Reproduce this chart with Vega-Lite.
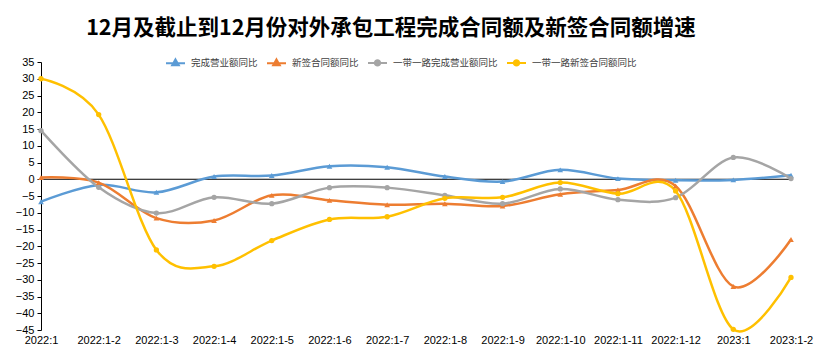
{
  "$schema": "https://vega.github.io/schema/vega-lite/v6.json",
  "width": 750,
  "height": 268,
  "autosize": {"type": "none"},
  "padding": {"left": 41, "top": 62, "right": 34, "bottom": 33},
  "background": "white",
  "config": {"view": {"stroke": null}},
  "title": {
    "text": "12月及截止到12月份对外承包工程完成合同额及新签合同额增速",
    "font": "Noto Sans CJK SC",
    "fontSize": 21.5,
    "fontWeight": "bold",
    "color": "#000000",
    "anchor": "middle",
    "dx": -25,
    "offset": 13
  },
  "datasets": {
    "series": [
      {"date": "2022:1", "series": "完成营业额同比", "value": -6.7},
      {"date": "2022:1-2", "series": "完成营业额同比", "value": -1.7},
      {"date": "2022:1-3", "series": "完成营业额同比", "value": -3.9},
      {"date": "2022:1-4", "series": "完成营业额同比", "value": 0.8},
      {"date": "2022:1-5", "series": "完成营业额同比", "value": 1.1},
      {"date": "2022:1-6", "series": "完成营业额同比", "value": 3.9},
      {"date": "2022:1-7", "series": "完成营业额同比", "value": 3.6},
      {"date": "2022:1-8", "series": "完成营业额同比", "value": 0.8},
      {"date": "2022:1-9", "series": "完成营业额同比", "value": -0.7},
      {"date": "2022:1-10", "series": "完成营业额同比", "value": 2.8},
      {"date": "2022:1-11", "series": "完成营业额同比", "value": 0.2},
      {"date": "2022:1-12", "series": "完成营业额同比", "value": -0.3},
      {"date": "2023:1", "series": "完成营业额同比", "value": -0.2},
      {"date": "2023:1-2", "series": "完成营业额同比", "value": 1.2},
      {"date": "2022:1", "series": "新签合同额同比", "value": 0.5},
      {"date": "2022:1-2", "series": "新签合同额同比", "value": -1.0},
      {"date": "2022:1-3", "series": "新签合同额同比", "value": -11.6},
      {"date": "2022:1-4", "series": "新签合同额同比", "value": -12.3},
      {"date": "2022:1-5", "series": "新签合同额同比", "value": -4.8},
      {"date": "2022:1-6", "series": "新签合同额同比", "value": -6.3},
      {"date": "2022:1-7", "series": "新签合同额同比", "value": -7.6},
      {"date": "2022:1-8", "series": "新签合同额同比", "value": -7.3},
      {"date": "2022:1-9", "series": "新签合同额同比", "value": -8.0},
      {"date": "2022:1-10", "series": "新签合同额同比", "value": -4.5},
      {"date": "2022:1-11", "series": "新签合同额同比", "value": -3.2},
      {"date": "2022:1-12", "series": "新签合同额同比", "value": -2.0},
      {"date": "2023:1", "series": "新签合同额同比", "value": -32.0},
      {"date": "2023:1-2", "series": "新签合同额同比", "value": -18.0},
      {"date": "2022:1", "series": "一带一路完成营业额同比", "value": 14.5},
      {"date": "2022:1-2", "series": "一带一路完成营业额同比", "value": -2.4},
      {"date": "2022:1-3", "series": "一带一路完成营业额同比", "value": -10.1},
      {"date": "2022:1-4", "series": "一带一路完成营业额同比", "value": -5.4},
      {"date": "2022:1-5", "series": "一带一路完成营业额同比", "value": -7.3},
      {"date": "2022:1-6", "series": "一带一路完成营业额同比", "value": -2.5},
      {"date": "2022:1-7", "series": "一带一路完成营业额同比", "value": -2.5},
      {"date": "2022:1-8", "series": "一带一路完成营业额同比", "value": -4.8},
      {"date": "2022:1-9", "series": "一带一路完成营业额同比", "value": -7.3},
      {"date": "2022:1-10", "series": "一带一路完成营业额同比", "value": -2.9},
      {"date": "2022:1-11", "series": "一带一路完成营业额同比", "value": -6.1},
      {"date": "2022:1-12", "series": "一带一路完成营业额同比", "value": -5.5},
      {"date": "2023:1", "series": "一带一路完成营业额同比", "value": 6.5},
      {"date": "2023:1-2", "series": "一带一路完成营业额同比", "value": 0.2},
      {"date": "2022:1", "series": "一带一路新签合同额同比", "value": 30.0},
      {"date": "2022:1-2", "series": "一带一路新签合同额同比", "value": 19.3},
      {"date": "2022:1-3", "series": "一带一路新签合同额同比", "value": -21.1},
      {"date": "2022:1-4", "series": "一带一路新签合同额同比", "value": -26.0},
      {"date": "2022:1-5", "series": "一带一路新签合同额同比", "value": -18.3},
      {"date": "2022:1-6", "series": "一带一路新签合同额同比", "value": -12.0},
      {"date": "2022:1-7", "series": "一带一路新签合同额同比", "value": -11.2},
      {"date": "2022:1-8", "series": "一带一路新签合同额同比", "value": -5.7},
      {"date": "2022:1-9", "series": "一带一路新签合同额同比", "value": -5.4},
      {"date": "2022:1-10", "series": "一带一路新签合同额同比", "value": -1.0},
      {"date": "2022:1-11", "series": "一带一路新签合同额同比", "value": -4.3},
      {"date": "2022:1-12", "series": "一带一路新签合同额同比", "value": -3.5},
      {"date": "2023:1", "series": "一带一路新签合同额同比", "value": -44.8},
      {"date": "2023:1-2", "series": "一带一路新签合同额同比", "value": -29.3}
    ],
    "zero": [{"z": 0}]
  },
  "layer": [
    {
      "data": {"name": "zero"},
      "mark": {"type": "rule", "color": "#000000", "strokeWidth": 1},
      "encoding": {
        "y": {
          "field": "z", "type": "quantitative",
          "scale": {"domain": [-45, 35], "nice": false, "zero": false},
          "axis": {"values": [-45, -40, -35, -30, -25, -20, -15, -10, -5, 0, 5, 10, 15, 20, 25, 30, 35],
                   "tickCount": 17, "grid": false, "domainColor": "#000000", "tickColor": "#000000", "tickSize": 4,
                   "labelFont": "Liberation Sans", "labelFontSize": 11, "labelColor": "#000000",
                   "labelPadding": 3, "labelOverlap": false, "labelFlush": false, "title": null}
        }
      }
    },
    {
      "data": {"name": "series"},
      "mark": {"type": "line", "interpolate": "cardinal", "strokeWidth": 2.5},
      "encoding": {
        "x": {
          "field": "date", "type": "ordinal", "sort": null,
          "scale": {"type": "point", "padding": 0},
          "axis": {"orient": "bottom", "domain": false, "ticks": false, "labelAngle": 0,
                   "labelFont": "Liberation Sans", "labelFontSize": 11, "labelColor": "#000000",
                   "labelPadding": 4, "labelOverlap": false, "title": null}
        },
        "y": {
          "field": "value", "type": "quantitative",
          "axis": {"values": [-45, -40, -35, -30, -25, -20, -15, -10, -5, 0, 5, 10, 15, 20, 25, 30, 35],
                   "tickCount": 17, "grid": false, "domainColor": "#000000", "tickColor": "#000000", "tickSize": 4,
                   "labelFont": "Liberation Sans", "labelFontSize": 11, "labelColor": "#000000",
                   "labelPadding": 3, "labelOverlap": false, "labelFlush": false, "title": null}
        },
        "color": {
          "field": "series", "type": "nominal",
          "scale": {
            "domain": ["完成营业额同比", "新签合同额同比", "一带一路完成营业额同比", "一带一路新签合同额同比"],
            "range": ["#5B9BD5", "#ED7D31", "#A5A5A5", "#FFC000"]
          },
          "legend": {
            "title": null,
            "orient": "none",
            "direction": "horizontal",
            "legendX": 124,
            "legendY": -10,
            "labelFont": "Noto Sans CJK SC",
            "labelFontSize": 9.5,
            "labelColor": "#404040",
            "columnPadding": 5,
            "labelOffset": 5,
            "symbolSize": 361,
            "symbolStrokeWidth": 2,
            "encode": {
              "symbols": {
                "update": {
                  "shape": {"signal": "indexof(['完成营业额同比','新签合同额同比'], datum.value) >= 0 ? 'M-1,0H1M0,-0.4L0.35,0.22L-0.35,0.22Z' : 'M-1,0H1M0.28,0A0.28,0.28,0,1,1,-0.28,0A0.28,0.28,0,1,1,0.28,0Z'"},
                  "fill": {"signal": "scale('color', datum.value)"},
                  "stroke": {"signal": "scale('color', datum.value)"},
                  "strokeWidth": {"value": 2},
                  "size": {"value": 361}
                }
              }
            }
          }
        }
      }
    },
    {
      "data": {"name": "series"},
      "transform": [{"filter": "datum.series === '完成营业额同比' || datum.series === '新签合同额同比'"}],
      "mark": {"type": "point", "filled": true, "size": 32, "opacity": 1, "shape": "triangle-up"},
      "encoding": {
        "x": {"field": "date", "type": "ordinal", "sort": null},
        "y": {"field": "value", "type": "quantitative"},
        "color": {"field": "series", "type": "nominal"}
      }
    },
    {
      "data": {"name": "series"},
      "transform": [{"filter": "datum.series === '一带一路完成营业额同比' || datum.series === '一带一路新签合同额同比'"}],
      "mark": {"type": "point", "filled": true, "size": 28, "opacity": 1, "shape": "circle"},
      "encoding": {
        "x": {"field": "date", "type": "ordinal", "sort": null},
        "y": {"field": "value", "type": "quantitative"},
        "color": {"field": "series", "type": "nominal"}
      }
    }
  ]
}
